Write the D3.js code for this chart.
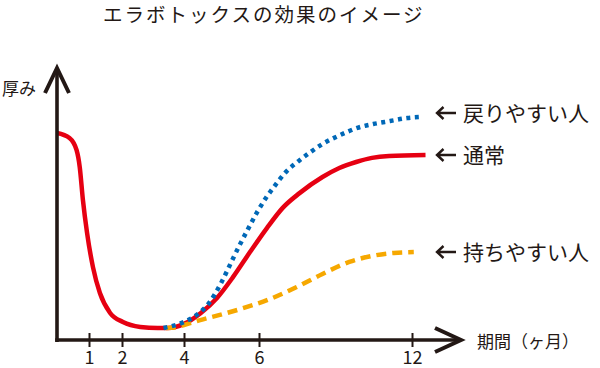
<!DOCTYPE html>
<html>
<head>
<meta charset="utf-8">
<script src="https://cdn.jsdelivr.net/npm/d3@7"></script>
<style>
  html, body { margin: 0; padding: 0; background: #fff; }
  svg { display: block; }
  text { font-family: "Noto Sans CJK JP", "Noto Sans", sans-serif; fill: #231815; }
</style>
</head>
<body>
<svg id="chart" width="600" height="368"></svg>
<script>
// ---- data ----
const title = "エラボトックスの効果のイメージ";
const yLabel = "厚み";
const xLabel = "期間（ヶ月）";
const tickValues = [1, 2, 4, 6, 12];
const tickLabels = ["1", "2", "4", "6", "12"];

// months / relative thickness
const normalX = [0, 0.39, 0.61, 0.71, 0.81, 0.94, 1.12, 1.33, 1.64, 2.03, 2.59, 3.15, 3.48, 4, 4.45, 4.88, 5.31, 5.76, 6.31, 6.93, 7.59, 8.49, 9.15, 9.81, 10.43, 11.10, 12.53];
const normalY = [75.8, 74.0, 69.6, 63.4, 51.3, 39.2, 26.7, 17.2, 9.9, 6.6, 4.8, 4.4, 4.4, 5.9, 9.9, 15.4, 23.1, 32.2, 41.0, 48.4, 53.8, 59.7, 63.0, 65.2, 66.7, 67.4, 67.8];

const fastX = [3.34, 4, 4.37, 4.67, 4.99, 5.25, 5.47, 5.71, 5.97, 6.27, 6.58, 7.05, 7.56, 8.03, 8.49, 9.19, 9.86, 10.48, 11.14, 11.81, 12.39];
const fastY = [4.4, 6.6, 9.5, 13.6, 20.9, 28.2, 34.4, 40.7, 47.3, 52.0, 56.0, 61.5, 65.6, 68.9, 71.8, 75.1, 77.7, 79.1, 80.2, 81.3, 81.7];

const slowX = [3.41, 3.80, 4, 4.43, 5.04, 5.68, 6.43, 7.48, 8.49, 9.54, 10.43, 11.29, 12.07];
const slowY = [4.4, 4.8, 5.5, 7.3, 9.5, 12.1, 15.0, 19.4, 24.2, 28.6, 30.8, 31.9, 32.2];

const seriesNames = ["戻りやすい人", "通常", "持ちやすい人"];

// ---- drawing ----
const svg = d3.select("#chart");
const ink = "#231815";

const x = d3.scaleLinear().domain([0, 1, 2, 4, 6, 12]).range([57, 89, 122, 184, 259, 412]);
const y = d3.scaleLinear().domain([0, 100]).range([340, 67]);

const xAxisEnd = 461;

// title
svg.append("text").attr("x", 103).attr("y", 22)
  .attr("font-size", 19.5).attr("letter-spacing", 2).text(title);

// curves
const line = d3.line().x(d => x(d[0])).y(d => y(d[1])).curve(d3.curveMonotoneX);
const zip = (a, b) => a.map((v, i) => [v, b[i]]);

svg.append("path").datum(zip(normalX, normalY))
  .attr("d", line).attr("fill", "none")
  .attr("stroke", "#e60012").attr("stroke-width", 4.5);

svg.append("path").datum(zip(slowX, slowY))
  .attr("d", line).attr("fill", "none")
  .attr("stroke", "#f6a800").attr("stroke-width", 4.5)
  .attr("stroke-dasharray", "10 6");

svg.append("path").datum(zip(fastX, fastY))
  .attr("d", line).attr("fill", "none")
  .attr("stroke", "#0068b7").attr("stroke-width", 4.5)
  .attr("stroke-dasharray", "4 4.5");

// axes lines
svg.append("line").attr("x1", x(0)).attr("x2", x(0))
  .attr("y1", y(0) + 2).attr("y2", y(100) + 1)
  .attr("stroke", ink).attr("stroke-width", 3.6);
svg.append("line").attr("x1", x(0) - 1.8).attr("x2", xAxisEnd - 1)
  .attr("y1", y(0)).attr("y2", y(0))
  .attr("stroke", ink).attr("stroke-width", 3.6);

// arrowheads
svg.append("path")
  .attr("d", `M${x(0) - 12},${y(100) + 26} L${x(0)},${y(100) + 1} L${x(0) + 12},${y(100) + 26}`)
  .attr("fill", "none").attr("stroke", ink).attr("stroke-width", 4).attr("stroke-linejoin", "miter");
svg.append("path")
  .attr("d", `M${xAxisEnd - 26},${y(0) - 12} L${xAxisEnd},${y(0)} L${xAxisEnd - 26},${y(0) + 12}`)
  .attr("fill", "none").attr("stroke", ink).attr("stroke-width", 4).attr("stroke-linejoin", "miter");

// ticks via d3 axis
const xAxis = d3.axisBottom(x).tickValues(tickValues)
  .tickFormat((d, i) => tickLabels[i]).tickSize(7).tickPadding(12);
const gx = svg.append("g").attr("transform", `translate(0,${y(0)})`).call(xAxis);
gx.select(".domain").remove();
gx.selectAll(".tick line").attr("y1", -7).attr("y2", 7)
  .attr("stroke", ink).attr("stroke-width", 2);
gx.selectAll(".tick text")
  .attr("font-size", 18).attr("font-family", "Noto Sans CJK JP")
  .attr("fill", ink).attr("y", 24).attr("dy", 0);

// axis labels
svg.append("text").attr("x", 2).attr("y", 95).attr("font-size", 17).text(yLabel);
svg.append("text").attr("x", 477).attr("y", 348).attr("font-size", 17).text(xLabel);

// series labels with arrows
const labelY = [113, 155, 252];
seriesNames.forEach((name, i) => {
  const cy = labelY[i];
  svg.append("path")
    .attr("d", `M456,${cy} L437,${cy} M443.5,${cy - 6} L437,${cy} L443.5,${cy + 6}`)
    .attr("fill", "none").attr("stroke", ink).attr("stroke-width", 2.4);
  svg.append("text").attr("x", 463).attr("y", cy + 8)
    .attr("font-size", 21).text(name);
});
</script>
</body>
</html>
